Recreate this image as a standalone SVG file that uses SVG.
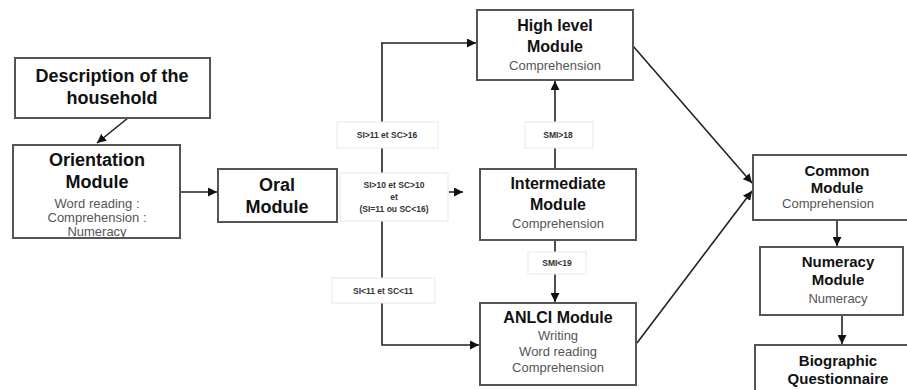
<svg xmlns="http://www.w3.org/2000/svg" width="907" height="390" viewBox="0 0 907 390">
<style>
.box{fill:#fff;stroke:#555;stroke-width:2}
.lbl{fill:#fff;stroke:#e8e8e8;stroke-width:1}
.t{font-family:"Liberation Sans",Arial,sans-serif;font-weight:bold;fill:#111;text-anchor:middle;dominant-baseline:central}
.s{font-family:"Liberation Sans",Arial,sans-serif;fill:#555;text-anchor:middle;dominant-baseline:central;font-size:13px}
.c{font-family:"Liberation Sans",Arial,sans-serif;font-weight:bold;fill:#333;text-anchor:middle;dominant-baseline:central;font-size:8.5px}
.ln{fill:none;stroke:#222;stroke-width:1.6}
</style>
<defs>
<marker id="ahb" viewBox="0 0 10 10" refX="10" refY="5" markerWidth="9" markerHeight="9" markerUnits="userSpaceOnUse" orient="auto">
<path d="M0,0 L10,5 L0,10 z" fill="#111"/>
</marker>
</defs>
<rect width="907" height="390" fill="#fff"/>
<g id="connectors">
<line class="ln" x1="128" y1="118" x2="97" y2="143" marker-end="url(#ahb)"/>
<line class="ln" x1="180" y1="192" x2="217" y2="192" marker-end="url(#ahb)"/>
<polyline class="ln" points="382,43 382,345 479,345" marker-end="url(#ahb)"/>
<line class="ln" x1="381" y1="43" x2="476" y2="43" marker-end="url(#ahb)"/>
<line class="ln" x1="449" y1="192" x2="463" y2="192" marker-end="url(#ahb)"/>
<line class="ln" x1="555" y1="169" x2="555" y2="81" marker-end="url(#ahb)"/>
<line class="ln" x1="555" y1="240" x2="555" y2="302" marker-end="url(#ahb)"/>
<line class="ln" x1="633" y1="46" x2="752" y2="183" marker-end="url(#ahb)"/>
<line class="ln" x1="637" y1="343" x2="752" y2="191" marker-end="url(#ahb)"/>
<line class="ln" x1="837" y1="220" x2="837" y2="246" marker-end="url(#ahb)"/>
<line class="ln" x1="842" y1="315" x2="842" y2="344" marker-end="url(#ahb)"/>
</g>
<g id="cond1"><rect class="lbl" x="337" y="122" width="101" height="26"/><text class="c" x="387" y="135">SI&gt;11 et SC&gt;16</text></g>
<g id="cond2"><rect class="lbl" x="340" y="173" width="108" height="48"/><text class="c" x="394" y="185">SI&gt;10 et SC&gt;10</text><text class="c" x="394" y="197">et</text><text class="c" x="394" y="209">(SI=11 ou SC&lt;16)</text></g>
<g id="cond3"><rect class="lbl" x="332" y="278" width="103" height="25"/><text class="c" x="383" y="290.5">SI&lt;11 et SC&lt;11</text></g>
<g id="cond4"><rect class="lbl" x="525" y="122" width="68" height="26"/><text class="c" x="558" y="135">SMI&gt;18</text></g>
<g id="cond5"><rect class="lbl" x="528" y="252" width="58" height="22"/><text class="c" x="557" y="263">SMI&lt;19</text></g>
<g id="description"><rect class="box" x="15" y="58" width="195" height="60"/><text class="t" x="112" y="76" font-size="18">Description of the</text><text class="t" x="112" y="98" font-size="18">household</text></g>
<g id="orientation"><rect class="box" x="13" y="145" width="167" height="93"/><text class="t" x="97" y="160" font-size="18">Orientation</text><text class="t" x="97" y="182" font-size="18">Module</text><text class="s" x="97" y="203" font-size="12">Word reading :</text><text class="s" x="97" y="217" font-size="12">Comprehension :</text><text class="s" x="97" y="231" font-size="12">Numeracy</text></g>
<g id="oral"><rect class="box" x="218" y="169" width="119" height="53"/><text class="t" x="277" y="185" font-size="18">Oral</text><text class="t" x="277" y="207" font-size="18">Module</text></g>
<g id="highlevel"><rect class="box" x="477" y="10" width="156" height="70"/><text class="t" x="555" y="25" font-size="16">High level</text><text class="t" x="555" y="46" font-size="16">Module</text><text class="s" x="555" y="65">Comprehension</text></g>
<g id="intermediate"><rect class="box" x="480" y="169" width="156" height="71"/><text class="t" x="558" y="183" font-size="16">Intermediate</text><text class="t" x="558" y="204" font-size="16">Module</text><text class="s" x="558" y="223">Comprehension</text></g>
<g id="anlci"><rect class="box" x="480" y="303" width="156" height="82"/><text class="t" x="558" y="317" font-size="16">ANLCI Module</text><text class="s" x="558" y="335">Writing</text><text class="s" x="558" y="351">Word reading</text><text class="s" x="558" y="367">Comprehension</text></g>
<g id="common"><rect class="box" x="753" y="155" width="160" height="65"/><text class="t" x="837" y="170" font-size="15">Common</text><text class="t" x="837" y="187" font-size="15">Module</text><text class="s" x="828" y="203">Comprehension</text></g>
<g id="numeracy"><rect class="box" x="760" y="247" width="143" height="68"/><text class="t" x="838" y="261" font-size="15">Numeracy</text><text class="t" x="838" y="279" font-size="15">Module</text><text class="s" x="838" y="298">Numeracy</text></g>
<g id="biographic"><rect class="box" x="755" y="345" width="160" height="55"/><text class="t" x="838" y="360" font-size="15">Biographic</text><text class="t" x="838" y="378" font-size="15">Questionnaire</text></g>
</svg>
